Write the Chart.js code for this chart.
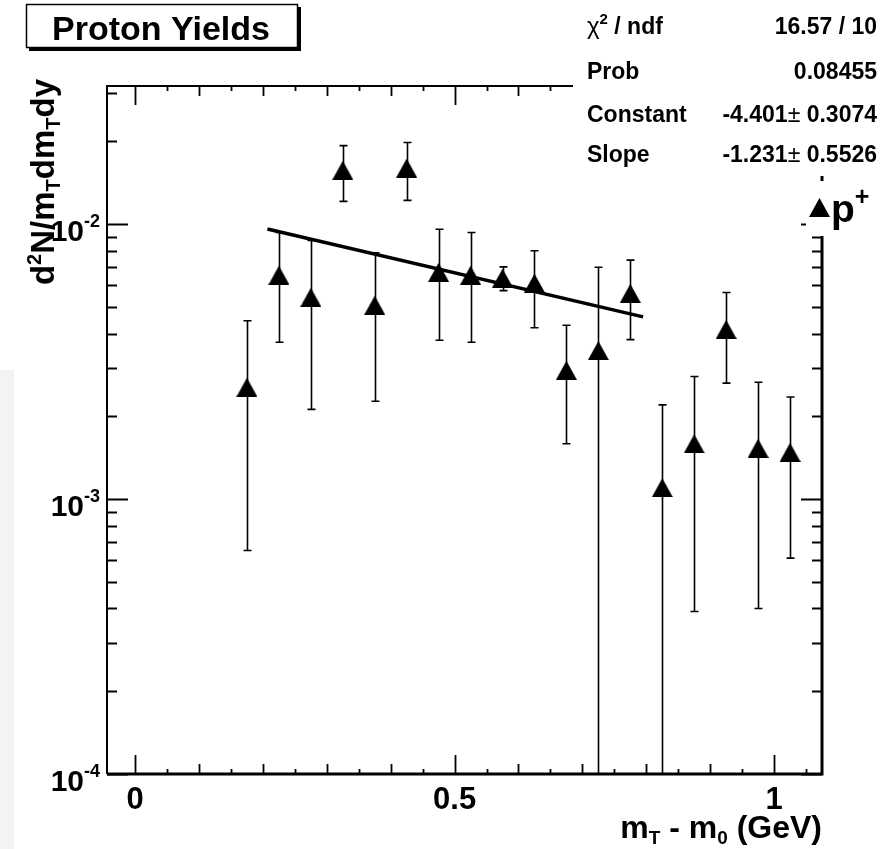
<!DOCTYPE html>
<html>
<head>
<meta charset="utf-8">
<script src="https://cdn.jsdelivr.net/npm/chart.js@4"></script>
<style>
  body { margin: 0; background: #fff; }
  canvas { display: block; }
</style>
</head>
<body>
<canvas id="myChart" width="888" height="849"></canvas>
<script>
// mT - m0 bin centres (GeV) and proton yields
var mtBins   = [0.175, 0.225, 0.275, 0.325, 0.375, 0.425, 0.475, 0.525, 0.575,
                0.625, 0.675, 0.725, 0.775, 0.825, 0.875, 0.925, 0.975, 1.025];
var yields   = [0.00255, 0.00652, 0.00542, 0.0157, 0.00507, 0.0160, 0.00668, 0.00652, 0.00636,
                0.0061, 0.00294, 0.00347, 0.0056, 0.0011, 0.00159, 0.00414, 0.00153, 0.00148];
var yieldErr = [0.0019, 0.0028, 0.0033, 0.0036, 0.0028, 0.0038, 0.0029, 0.0028, 0.00063,
                0.0019, 0.00135, 0.0035, 0.0018, 0.0011, 0.0012, 0.0015, 0.00113, 0.00087];

// exponential fit, end points of the drawn line
var fitX = [0.207, 0.795];
var fitY = [0.0096, 0.0046];

// axis labels
var yDecades   = [1e-4, 1e-3, 1e-2];
var yExponents = ['-4', '-3', '-2'];
var xTickVals  = [0, 0.5, 1];
var xTickLabels = ['0', '0.5', '1'];

// fit statistics box
var statLabels = ['χ² / ndf', 'Prob', 'Constant', 'Slope'];
var statValues = ['16.57 / 10', '0.08455', '-4.401± 0.3074', '-1.231± 0.5526'];

var FONT = '"Liberation Sans", Arial, Helvetica, sans-serif';

// ROOT style full triangle marker
var marker = document.createElement('canvas');
marker.width = 21; marker.height = 19;
(function () {
    var m = marker.getContext('2d');
    m.fillStyle = '#000';
    m.beginPath();
    m.moveTo(0, 19); m.lineTo(21, 19); m.lineTo(10.5, 0);
    m.closePath(); m.fill();
})();

function richWidth(ctx, parts) {
    var w = 0;
    parts.forEach(function (p) { ctx.font = p.f; w += ctx.measureText(p.t).width; });
    return w;
}
function drawRich(ctx, parts, x, y, align) {
    var w = richWidth(ctx, parts);
    var cx = align === 'right' ? x - w : (align === 'center' ? x - w / 2 : x);
    ctx.textAlign = 'left';
    ctx.textBaseline = 'alphabetic';
    parts.forEach(function (p) {
        ctx.font = p.f;
        ctx.fillText(p.t, cx, y + (p.dy || 0));
        cx += ctx.measureText(p.t).width;
    });
}

var frameAndTicks = {
    id: 'frameAndTicks',
    beforeDatasetsDraw: function (chart) {
        var ctx = chart.ctx, a = chart.chartArea;
        var xs = chart.scales.x, ys = chart.scales.y;
        ctx.save();
        ctx.strokeStyle = '#000';
        // frame
        ctx.lineWidth = 2;
        ctx.beginPath();
        ctx.moveTo(a.left, a.bottom); ctx.lineTo(a.left, a.top); ctx.lineTo(a.right, a.top);
        ctx.stroke();
        ctx.lineWidth = 3;
        ctx.beginPath();
        ctx.moveTo(a.left, a.bottom); ctx.lineTo(a.right, a.bottom); ctx.lineTo(a.right, a.top);
        ctx.stroke();

        // x ticks, bottom and top
        ctx.lineWidth = 1.8;
        var kMin = Math.ceil(xs.min / 0.05 - 1e-6), kMax = Math.floor(xs.max / 0.05 + 1e-6);
        for (var k = kMin; k <= kMax; k++) {
            var px = Math.round(xs.getPixelForValue(k * 0.05)) + 0.5;
            var len = (k % 10 === 0) ? 19 : (k % 2 === 0 ? 10 : 5);
            ctx.beginPath();
            ctx.moveTo(px, a.bottom); ctx.lineTo(px, a.bottom - len);
            ctx.moveTo(px, a.top); ctx.lineTo(px, a.top + len);
            ctx.stroke();
        }
        // y ticks, left and right
        for (var d = -4; d <= -2; d++) {
            for (var m = 1; m <= 9; m++) {
                var v = m * Math.pow(10, d);
                if (v > ys.max) continue;
                var py = Math.round(ys.getPixelForValue(v)) + 0.5;
                var l = (m === 1) ? 21 : 10;
                ctx.beginPath();
                ctx.moveTo(a.left, py); ctx.lineTo(a.left + l, py);
                ctx.moveTo(a.right, py); ctx.lineTo(a.right - l, py);
                ctx.stroke();
            }
        }

        // error bars
        ctx.lineWidth = 1.6;
        ctx.beginPath();
        ctx.rect(a.left, a.top, a.right - a.left, a.bottom - a.top);
        ctx.clip();
        for (var i = 0; i < mtBins.length; i++) {
            var bx = Math.round(xs.getPixelForValue(mtBins[i])) + 0.5;
            var hi = yields[i] + yieldErr[i], lo = yields[i] - yieldErr[i];
            var yHi = ys.getPixelForValue(hi);
            var yLo = lo > ys.min ? ys.getPixelForValue(lo) : a.bottom + 5;
            ctx.beginPath();
            ctx.moveTo(bx, yLo); ctx.lineTo(bx, yHi);
            ctx.moveTo(bx - 4, yHi); ctx.lineTo(bx + 4, yHi);
            if (lo > ys.min) { ctx.moveTo(bx - 4, yLo); ctx.lineTo(bx + 4, yLo); }
            ctx.stroke();
        }
        ctx.restore();
    },
    afterDraw: function (chart) {
        var ctx = chart.ctx, a = chart.chartArea;
        var xs = chart.scales.x, ys = chart.scales.y;
        ctx.save();
        ctx.fillStyle = '#000';

        // y tick labels
        for (var i = 0; i < yDecades.length; i++) {
            var py = ys.getPixelForValue(yDecades[i]);
            drawRich(ctx, [
                { t: '10', f: 'bold 30px ' + FONT },
                { t: yExponents[i], f: 'bold 18px ' + FONT, dy: -14 }
            ], a.left - 7, py + 17, 'right');
        }
        // x tick labels
        ctx.font = 'bold 31px ' + FONT;
        ctx.textAlign = 'center';
        for (var j = 0; j < xTickVals.length; j++) {
            ctx.fillText(xTickLabels[j], xs.getPixelForValue(xTickVals[j]), a.bottom + 35);
        }

        // axis titles
        drawRich(ctx, [
            { t: 'm', f: 'bold 32px ' + FONT },
            { t: 'T', f: 'bold 19px ' + FONT, dy: 6 },
            { t: ' - m', f: 'bold 32px ' + FONT },
            { t: '0', f: 'bold 19px ' + FONT, dy: 6 },
            { t: ' (GeV)', f: 'bold 32px ' + FONT }
        ], a.right, 838, 'right');

        ctx.save();
        ctx.translate(54, 182);
        ctx.rotate(-Math.PI / 2);
        drawRich(ctx, [
            { t: 'd', f: 'bold 33px ' + FONT },
            { t: '2', f: 'bold 20px ' + FONT, dy: -13 },
            { t: 'N/m', f: 'bold 33px ' + FONT },
            { t: 'T', f: 'bold 20px ' + FONT, dy: 6 },
            { t: 'dm', f: 'bold 33px ' + FONT },
            { t: 'T', f: 'bold 20px ' + FONT, dy: 6 },
            { t: 'dy', f: 'bold 33px ' + FONT }
        ], 0, 0, 'center');
        ctx.restore();

        // title box
        ctx.fillStyle = '#000';
        ctx.fillRect(29, 7, 272, 44);
        ctx.fillStyle = '#fff';
        ctx.fillRect(26, 4, 272, 44);
        ctx.strokeStyle = '#000';
        ctx.lineWidth = 1.5;
        ctx.strokeRect(26.5, 4.5, 271, 43);
        ctx.fillStyle = '#000';
        ctx.font = 'bold 34px ' + FONT;
        ctx.textAlign = 'center';
        ctx.fillText('Proton Yields', 161, 40);

        // stats box (white, covers frame corner)
        ctx.fillStyle = '#fff';
        ctx.fillRect(573, 0, 888 - 573, 176);
        ctx.fillRect(806, 181, 888 - 806, 55);
        ctx.fillStyle = '#000';
        var rowY = [34, 79, 122, 162];
        for (var r = 0; r < statLabels.length; r++) {
            var lab = statLabels[r], parts;
            if (lab.indexOf('χ²') === 0) {
                parts = [
                    { t: 'χ', f: '24px ' + FONT },
                    { t: '2', f: 'bold 15px ' + FONT, dy: -10 },
                    { t: lab.slice(2), f: 'bold 23px ' + FONT }
                ];
            } else {
                parts = [{ t: lab, f: 'bold 23px ' + FONT }];
            }
            drawRich(ctx, parts, 587, rowY[r], 'left');
            var vp = statValues[r].split('±'), vparts = [{ t: vp[0], f: 'bold 23px ' + FONT }];
            if (vp.length > 1) {
                vparts.push({ t: '±', f: '23px ' + FONT });
                vparts.push({ t: vp[1], f: 'bold 23px ' + FONT });
            }
            drawRich(ctx, vparts, 877, rowY[r], 'right');
        }

        // legend
        ctx.drawImage(marker, 809, 198);
        drawRich(ctx, [
            { t: 'p', f: 'bold 39px ' + FONT },
            { t: '+', f: 'bold 25px ' + FONT, dy: -17 }
        ], 831, 222, 'left');

        // faint strip at the left edge of the scan
        ctx.fillStyle = '#f3f3f3';
        ctx.fillRect(0, 370, 14, 849 - 370);
        ctx.restore();
    }
};

var points = mtBins.map(function (x, i) { return { x: x, y: yields[i] }; });
var fitLine = fitX.map(function (x, i) { return { x: x, y: fitY[i] }; });

var ctx = document.getElementById('myChart').getContext('2d');
var myChart = new Chart(ctx, {
    type: 'scatter',
    data: {
        datasets: [
            {
                label: 'p+',
                data: points,
                pointStyle: marker,
                pointRadius: 10,
                pointHoverRadius: 10,
                backgroundColor: '#000',
                borderColor: '#000'
            },
            {
                type: 'line',
                label: 'fit',
                data: fitLine,
                borderColor: '#000',
                borderWidth: 3.5,
                pointRadius: 0,
                fill: false,
                tension: 0
            }
        ]
    },
    options: {
        responsive: false,
        animation: false,
        devicePixelRatio: 1,
        layout: { padding: { left: 107, right: 66, top: 86, bottom: 75 } },
        plugins: {
            legend: { display: false },
            title: { display: false },
            tooltip: { enabled: false }
        },
        scales: {
            x: { type: 'linear', min: -0.044, max: 1.075, display: false },
            y: { type: 'logarithmic', min: 1e-4, max: 0.0318, display: false }
        }
    },
    plugins: [frameAndTicks]
});
</script>
</body>
</html>
